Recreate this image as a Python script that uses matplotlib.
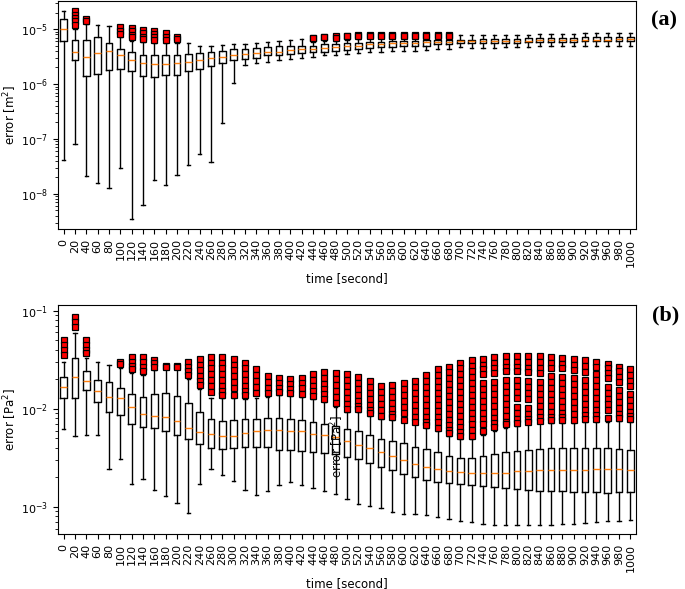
import matplotlib
matplotlib.use("Agg")
import matplotlib.pyplot as plt
import numpy as np

# time steps (x categories)
times = list(range(0, 1001, 20))

# panel (a): error [m^2], values stored as log10
a_whishi = [-4.68, -5.00, -4.90, -4.93, -4.95, -5.15, -5.21, -5.24, -5.25, -5.25, -5.25, -5.26, -5.31, -5.30, -5.29,
            -5.28, -5.27, -5.26, -5.24, -5.22, -5.20, -5.18, -5.24, -5.22, -5.21, -5.19, -5.18, -5.17, -5.16, -5.16,
            -5.15, -5.15, -5.15, -5.15, -5.14, -5.11, -5.11, -5.10, -5.10, -5.10, -5.10, -5.10, -5.09, -5.09, -5.09,
            -5.09, -5.08, -5.08, -5.08, -5.08, -5.08]
a_q3 = [-4.82, -5.20, -5.19, -5.15, -5.26, -5.36, -5.42, -5.47, -5.47, -5.48, -5.47, -5.45, -5.44, -5.42, -5.39,
        -5.36, -5.36, -5.34, -5.33, -5.31, -5.31, -5.30, -5.30, -5.28, -5.27, -5.26, -5.25, -5.24, -5.23, -5.22,
        -5.21, -5.21, -5.20, -5.19, -5.19, -5.19, -5.19, -5.18, -5.18, -5.18, -5.18, -5.17, -5.16, -5.16, -5.16,
        -5.16, -5.15, -5.15, -5.15, -5.15, -5.15]
a_med = [-5.00, -5.42, -5.51, -5.44, -5.39, -5.48, -5.56, -5.61, -5.64, -5.64, -5.61, -5.59, -5.56, -5.53, -5.50,
         -5.48, -5.45, -5.44, -5.41, -5.41, -5.38, -5.37, -5.36, -5.34, -5.33, -5.31, -5.30, -5.28, -5.27, -5.26,
         -5.25, -5.25, -5.24, -5.24, -5.23, -5.22, -5.22, -5.22, -5.22, -5.21, -5.21, -5.21, -5.20, -5.20, -5.19,
         -5.19, -5.19, -5.19, -5.19, -5.18, -5.18]
a_q1 = [-5.22, -5.56, -5.85, -5.82, -5.74, -5.73, -5.77, -5.85, -5.87, -5.84, -5.83, -5.77, -5.72, -5.67, -5.61,
        -5.57, -5.54, -5.53, -5.48, -5.47, -5.45, -5.44, -5.42, -5.41, -5.39, -5.38, -5.36, -5.34, -5.33, -5.32,
        -5.31, -5.30, -5.30, -5.28, -5.28, -5.26, -5.26, -5.25, -5.25, -5.25, -5.25, -5.24, -5.24, -5.24, -5.23,
        -5.23, -5.22, -5.22, -5.22, -5.22, -5.22]
a_whislo = [-7.39, -7.09, -7.68, -7.80, -7.89, -7.52, -8.46, -8.20, -7.74, -7.83, -7.66, -7.48, -7.27, -7.41, -6.71,
            -5.99, -5.66, -5.62, -5.59, -5.57, -5.54, -5.53, -5.50, -5.48, -5.47, -5.45, -5.44, -5.42, -5.41, -5.40,
            -5.39, -5.39, -5.38, -5.37, -5.36, -5.33, -5.34, -5.34, -5.34, -5.33, -5.33, -5.32, -5.31, -5.31, -5.31,
            -5.31, -5.30, -5.30, -5.30, -5.30, -5.30]
a_fliers = ([[], [-4.68, -4.74, -4.80, -4.86, -4.93], [-4.81, -4.85], [], [],
             [-4.97, -5.03, -5.09], [-4.98, -5.04, -5.10, -5.14], [-5.02, -5.08, -5.14, -5.18],
             [-5.03, -5.09, -5.15, -5.19], [-5.08, -5.14, -5.19], [-5.15, -5.18]]
            + [[]] * 11
            + [[-5.16, -5.17], [-5.14, -5.15], [-5.12, -5.16], [-5.12, -5.13]]
            + [[-5.11, -5.12]] * 9
            + [[]] * 16)

# panel (b): error [Pa^2], values stored as log10
b_whishi = [-1.52, -1.23, -1.48, -1.52, -1.55, -1.58, -1.64, -1.66, -1.61, -1.60, -1.60, -1.70, -1.80, -1.89, -1.89,
            -1.89, -1.90, -1.89, -1.88, -1.86, -1.87, -1.88, -1.90, -1.93, -1.98, -2.03, -2.03, -2.07, -2.10, -2.11,
            -2.14, -2.16, -2.20, -2.23, -2.28, -2.31, -2.31, -2.27, -2.23, -2.20, -2.18, -2.16, -2.15, -2.15, -2.15,
            -2.15, -2.14, -2.14, -2.13, -2.12, -2.14]
b_q3 = [-1.68, -1.48, -1.62, -1.71, -1.73, -1.79, -1.85, -1.88, -1.85, -1.84, -1.87, -1.94, -2.03, -2.10, -2.12,
        -2.11, -2.10, -2.10, -2.09, -2.09, -2.10, -2.11, -2.13, -2.16, -2.18, -2.21, -2.23, -2.27, -2.31, -2.33,
        -2.35, -2.39, -2.41, -2.44, -2.48, -2.50, -2.50, -2.48, -2.46, -2.44, -2.43, -2.42, -2.41, -2.40, -2.40,
        -2.40, -2.40, -2.40, -2.40, -2.41, -2.42]
b_med = [-1.78, -1.68, -1.72, -1.82, -1.88, -1.89, -1.98, -2.05, -2.07, -2.08, -2.12, -2.20, -2.24, -2.26, -2.28,
         -2.28, -2.25, -2.23, -2.22, -2.22, -2.23, -2.23, -2.26, -2.27, -2.29, -2.33, -2.37, -2.40, -2.44, -2.48,
         -2.52, -2.56, -2.59, -2.61, -2.63, -2.64, -2.65, -2.65, -2.65, -2.65, -2.63, -2.63, -2.62, -2.62, -2.62,
         -2.62, -2.62, -2.61, -2.61, -2.61, -2.62]
b_q1 = [-1.89, -1.89, -1.81, -1.93, -2.03, -2.06, -2.16, -2.19, -2.20, -2.23, -2.27, -2.31, -2.36, -2.40, -2.41,
        -2.40, -2.39, -2.39, -2.39, -2.42, -2.42, -2.43, -2.44, -2.45, -2.46, -2.49, -2.51, -2.55, -2.59, -2.62,
        -2.66, -2.70, -2.73, -2.75, -2.76, -2.77, -2.78, -2.79, -2.80, -2.81, -2.82, -2.83, -2.84, -2.84, -2.84,
        -2.85, -2.85, -2.85, -2.86, -2.85, -2.85]
b_whislo = [-2.21, -2.28, -2.27, -2.27, -2.61, -2.51, -2.77, -2.72, -2.83, -2.89, -2.96, -3.06, -2.77, -2.61, -2.67,
            -2.74, -2.83, -2.88, -2.84, -2.78, -2.75, -2.78, -2.81, -2.84, -2.87, -2.92, -2.97, -2.99, -3.01, -3.05,
            -3.07, -3.07, -3.08, -3.10, -3.12, -3.14, -3.15, -3.17, -3.18, -3.18, -3.18, -3.18, -3.18, -3.18, -3.17,
            -3.17, -3.16, -3.15, -3.14, -3.14, -3.13]
b_fliers = [
    [-1.30, -1.35, -1.40, -1.45],
    [-1.07, -1.12, -1.17],
    [-1.30, -1.35, -1.40, -1.43],
    [],
    [],
    [-1.52, -1.54],
    [-1.47, -1.52, -1.56, -1.60],
    [-1.47, -1.52, -1.57, -1.62],
    [-1.50, -1.53, -1.57],
    [-1.56, -1.57],
    [-1.56, -1.57],
    [-1.52, -1.57, -1.62, -1.66],
    [-1.49, -1.55, -1.61, -1.67, -1.72, -1.76],
    [-1.47, -1.53, -1.59, -1.65, -1.71, -1.77, -1.83],
    [-1.47, -1.53, -1.59, -1.65, -1.71, -1.77, -1.82, -1.86],
    [-1.49, -1.55, -1.61, -1.67, -1.73, -1.79, -1.86],
    [-1.53, -1.59, -1.65, -1.71, -1.77, -1.82, -1.86],
    [-1.60, -1.66, -1.72, -1.78, -1.84],
    [-1.67, -1.73, -1.79, -1.84],
    [-1.69, -1.74, -1.79, -1.83],
    [-1.70, -1.75, -1.80, -1.84],
    [-1.69, -1.74, -1.79, -1.85],
    [-1.65, -1.71, -1.77, -1.82, -1.87],
    [-1.63, -1.69, -1.75, -1.80, -1.85, -1.90],
    [-1.64, -1.70, -1.76, -1.82, -1.88, -1.94],
    [-1.65, -1.71, -1.77, -1.83, -1.89, -1.95, -2.00],
    [-1.68, -1.74, -1.80, -1.86, -1.92, -1.97, -2.00],
    [-1.72, -1.78, -1.84, -1.90, -1.96, -2.01, -2.04],
    [-1.77, -1.83, -1.89, -1.95, -2.01, -2.07],
    [-1.76, -1.82, -1.88, -1.94, -2.00, -2.05, -2.08],
    [-1.74, -1.80, -1.86, -1.92, -1.98, -2.04, -2.11],
    [-1.72, -1.78, -1.84, -1.90, -1.96, -2.02, -2.08, -2.13],
    [-1.66, -1.72, -1.78, -1.84, -1.90, -1.96, -2.02, -2.08, -2.13, -2.17],
    [-1.60, -1.66, -1.72, -1.78, -1.84, -1.90, -1.96, -2.02, -2.08, -2.14, -2.20],
    [-1.57, -1.63, -1.69, -1.75, -1.81, -1.87, -1.93, -1.99, -2.05, -2.11, -2.17, -2.22, -2.25],
    [-1.53, -1.59, -1.65, -1.71, -1.77, -1.83, -1.89, -1.95, -2.01, -2.07, -2.13, -2.19, -2.24, -2.28],
    [-1.50, -1.56, -1.62, -1.68, -1.74, -1.80, -1.86, -1.92, -1.98, -2.04, -2.10, -2.16, -2.22, -2.28],
    [-1.49, -1.55, -1.60, -1.65, -1.74, -1.80, -1.86, -1.92, -1.98, -2.04, -2.10, -2.16, -2.23],
    [-1.47, -1.53, -1.59, -1.64, -1.73, -1.79, -1.85, -1.91, -1.97, -2.03, -2.09, -2.15, -2.19],
    [-1.46, -1.52, -1.57, -1.62, -1.71, -1.77, -1.83, -1.89, -1.95, -2.01, -2.07, -2.13, -2.16],
    [-1.46, -1.52, -1.57, -1.62, -1.71, -1.77, -1.83, -1.89, -1.98, -2.04, -2.10, -2.15],
    [-1.46, -1.52, -1.58, -1.63, -1.72, -1.78, -1.84, -1.90, -1.99, -2.05, -2.10, -2.13],
    [-1.46, -1.52, -1.58, -1.64, -1.73, -1.79, -1.85, -1.91, -1.97, -2.03, -2.08, -2.12],
    [-1.47, -1.53, -1.58, -1.67, -1.73, -1.79, -1.85, -1.91, -1.97, -2.03, -2.08, -2.11],
    [-1.48, -1.54, -1.59, -1.68, -1.74, -1.80, -1.86, -1.92, -1.98, -2.04, -2.08, -2.11],
    [-1.49, -1.55, -1.61, -1.69, -1.75, -1.81, -1.87, -1.93, -1.99, -2.05, -2.11],
    [-1.50, -1.56, -1.63, -1.71, -1.77, -1.83, -1.89, -1.95, -2.01, -2.06, -2.10],
    [-1.52, -1.57, -1.65, -1.71, -1.77, -1.83, -1.89, -1.95, -2.01, -2.06, -2.10],
    [-1.54, -1.59, -1.64, -1.69, -1.78, -1.84, -1.90, -1.95, -2.01, -2.09],
    [-1.57, -1.62, -1.68, -1.73, -1.81, -1.87, -1.93, -1.99, -2.05, -2.09],
    [-1.60, -1.66, -1.72, -1.77, -1.85, -1.91, -1.97, -2.03, -2.07, -2.10],
]


def make_stats(whislo, q1, med, q3, whishi, fliers):
    stats = []
    for i, t in enumerate(times):
        stats.append({
            "label": str(t),
            "whislo": 10 ** whislo[i],
            "q1": 10 ** q1[i],
            "med": 10 ** med[i],
            "q3": 10 ** q3[i],
            "whishi": 10 ** whishi[i],
            "fliers": 10 ** np.array(fliers[i], dtype=float),
        })
    return stats


plt.rcParams["font.family"] = "DejaVu Sans"
plt.rcParams["font.size"] = 8

fig = plt.figure(figsize=(6.85, 5.89), dpi=100)
ax_a = fig.add_axes([0.0847, 0.6112, 0.8438, 0.3878])
ax_b = fig.add_axes([0.0847, 0.0934, 0.8438, 0.3888])

flierprops = dict(marker="s", markerfacecolor="red", markeredgecolor="black",
                  markersize=4.8, markeredgewidth=0.9)
medianprops = dict(color="#ff7f0e", linewidth=1.0)
boxprops = dict(color="black", linewidth=1.0)
lineprops = dict(color="black", linewidth=1.0)

panels = [
    (ax_a, make_stats(a_whislo, a_q1, a_med, a_q3, a_whishi, a_fliers), "error [m$^2$]", (2.3e-9, 3.3e-5)),
    (ax_b, make_stats(b_whislo, b_q1, b_med, b_q3, b_whishi, b_fliers), "error [Pa$^2$]", (5.3e-4, 0.114)),
]

for ax, stats, ylabel, ylim in panels:
    ax.bxp(stats, widths=0.6, flierprops=flierprops, medianprops=medianprops,
           boxprops=boxprops, whiskerprops=lineprops, capprops=lineprops)
    ax.set_yscale("log")
    ax.set_ylim(*ylim)
    ax.set_xlim(0.5, len(times) + 0.5)
    ax.tick_params(axis="x", labelrotation=90, labelsize=8)
    ax.tick_params(axis="y", labelsize=8)
    ax.set_xlabel("time [second]", fontsize=8.5)
    ax.set_ylabel(ylabel, fontsize=8.5)
    ax.yaxis.set_label_coords(-0.068, 0.5)

# panel tags
fig.text(0.969, 0.966, "(a)", fontsize=16, fontweight="bold", family="Liberation Serif",
         ha="center", va="center")
fig.text(0.972, 0.464, "(b)", fontsize=16, fontweight="bold", family="Liberation Serif",
         ha="center", va="center")

# stray label that sits inside panel (b) in the original figure
fig.text(0.492, 0.241, "error [Pa$^2$]", rotation=90, fontsize=8.5, ha="center", va="center")

fig.savefig("out.png", dpi=100)
